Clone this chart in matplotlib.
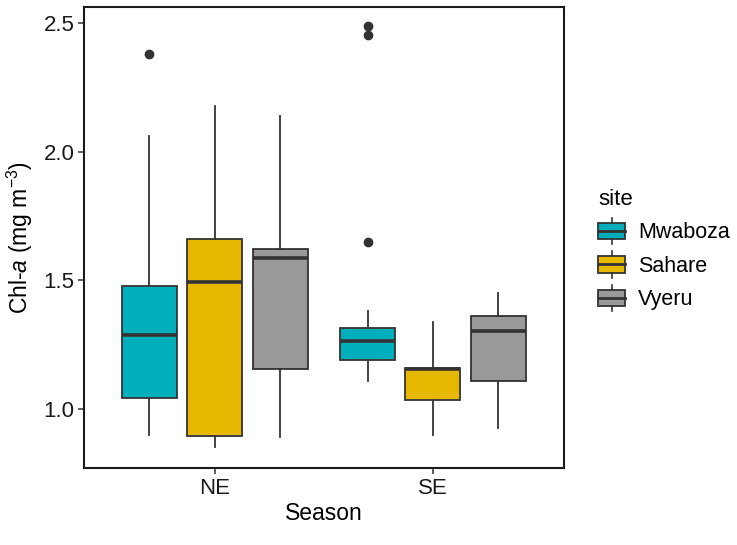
import numpy as np
import matplotlib
matplotlib.use('Agg')
import matplotlib.pyplot as plt
from matplotlib.legend_handler import HandlerBase
from matplotlib.patches import Rectangle
from matplotlib.lines import Line2D

plt.rcParams['font.family'] = ['Liberation Sans', 'DejaVu Sans']
plt.rcParams['mathtext.fontset'] = 'custom'
plt.rcParams['mathtext.rm'] = 'Liberation Sans'
plt.rcParams['mathtext.it'] = 'Liberation Sans:italic'

seasons = ['NE', 'SE']
sites = ['Mwaboza', 'Sahare', 'Vyeru']
colors = ['#00AFBB', '#E7B800', '#999999']

# box stats: [whislo, q1, med, q3, whishi]
ne_stats = [[0.899, 1.044, 1.287, 1.478, 2.061],
            [0.853, 0.896, 1.495, 1.660, 2.179],
            [0.892, 1.155, 1.587, 1.622, 2.140]]
se_stats = [[1.109, 1.190, 1.264, 1.316, 1.382],
            [0.899, 1.035, 1.157, 1.159, 1.337],
            [0.927, 1.109, 1.303, 1.362, 1.453]]
ne_fliers = [[2.378], [], []]
se_fliers = [[2.488, 2.453, 1.650], [], []]

edge = '#333333'


class BoxHandler(HandlerBase):
    def create_artists(self, legend, orig_handle, xdescent, ydescent,
                       width, height, fontsize, trans):
        fc = orig_handle.get_facecolor()
        x0 = xdescent
        y0 = -ydescent
        xc = x0 + width / 2
        stub = height * 0.3
        stub1 = Line2D([xc, xc], [y0 - stub, y0], color=edge, lw=1.2, transform=trans)
        stub2 = Line2D([xc, xc], [y0 + height, y0 + height + stub], color=edge, lw=1.2, transform=trans)
        rect = Rectangle((x0, y0), width, height, facecolor=fc, edgecolor=edge, lw=1.3, transform=trans)
        mid = Line2D([x0, x0 + width], [y0 + height / 2, y0 + height / 2], color=edge, lw=2.0, transform=trans)
        return [stub1, stub2, rect, mid]


fig = plt.figure(figsize=(7.37, 5.45), dpi=100)
ax = fig.add_axes([0.114, 0.141, 0.651, 0.846])

offsets = [-0.3, 0.0, 0.3]
for si, (stats_list, fliers_list) in enumerate([(ne_stats, ne_fliers), (se_stats, se_fliers)]):
    for k in range(3):
        lo, q1, med, q3, hi = stats_list[k]
        st = dict(whislo=lo, q1=q1, med=med, q3=q3, whishi=hi,
                  fliers=np.array(fliers_list[k]), label=sites[k])
        ax.bxp([st], positions=[si + 1 + offsets[k]], widths=0.252,
               patch_artist=True, showcaps=False,
               boxprops=dict(facecolor=colors[k], edgecolor=edge, linewidth=1.3),
               medianprops=dict(color=edge, linewidth=2.6, solid_capstyle='butt'),
               whiskerprops=dict(color=edge, linewidth=1.3),
               flierprops=dict(marker='o', markerfacecolor=edge, markeredgecolor=edge,
                               markersize=6, linestyle='none'))

ax.set_xlim(0.4, 2.6)
ax.set_ylim(0.771, 2.562)
ax.set_xticks([1, 2])
ax.set_xticklabels(seasons)
ax.set_yticks([1.0, 1.5, 2.0, 2.5])
ax.set_yticklabels(['1.0', '1.5', '2.0', '2.5'])
ax.tick_params(axis='both', direction='out', length=4, width=1.1, color=edge,
               labelsize=16, labelcolor='#1a1a1a', pad=3)
for sp in ax.spines.values():
    sp.set_linewidth(1.5)
    sp.set_color('#1a1a1a')

ax.set_xlabel('Season', fontsize=16.5, labelpad=2)
ax.set_ylabel(r'Chl-$\mathit{a}$ (mg m$^{-3}$)', fontsize=16.5, labelpad=6)

handles = [Rectangle((0, 0), 1, 1, facecolor=c) for c in colors]
leg = fig.legend(handles, sites, handler_map={Rectangle: BoxHandler()},
                 loc='upper left', bbox_to_anchor=(0.797, 0.673),
                 title='site', frameon=False, fontsize=15.5, title_fontsize=16,
                 handlelength=1.25, handleheight=0.8, handletextpad=0.6,
                 labelspacing=0.58, borderpad=0, alignment='left')

fig.savefig('out.png', dpi=100)
